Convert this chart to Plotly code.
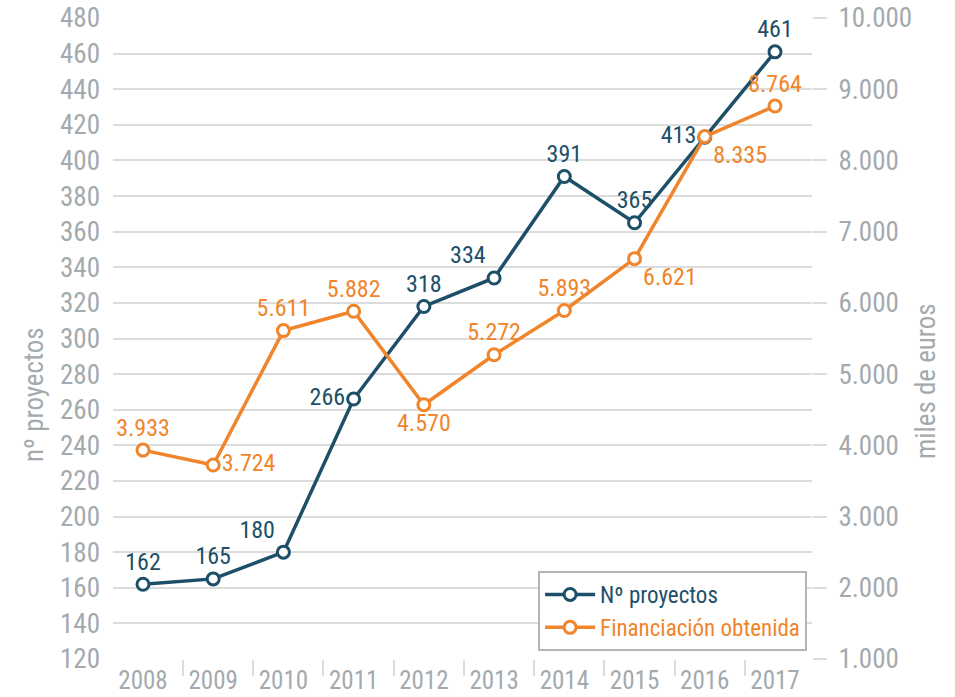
import plotly.graph_objects as go

years = [2008, 2009, 2010, 2011, 2012, 2013, 2014, 2015, 2016, 2017]
proyectos = [162, 165, 180, 266, 318, 334, 391, 365, 413, 461]
financiacion = [3933, 3724, 5611, 5882, 4570, 5272, 5893, 6621, 8335, 8764]
left_ticks = list(range(120, 481, 20))
right_ticks = list(range(1000, 10001, 1000))
right_ticktext = ["{:,}".format(v).replace(",", ".") for v in right_ticks]

BLUE = "#1d5068"
ORANGE = "#f0852b"
GREY = "#a3aaae"
GRID = "#dcdcdc"
FONT = "Liberation Sans Narrow, Roboto Condensed, Noto Sans, sans-serif"

pos_blue = ["top center", "top center", "top left", "middle left", "top center",
            "top left", "top center", "top center", "middle left", "top center"]
pos_orange = ["top center", "middle right", "top center", "top center", "bottom center",
              "top center", "top center", "bottom right", "bottom right", "top center"]

fig = go.Figure()
fig.add_trace(go.Scatter(
    x=years, y=financiacion, yaxis="y2",
    name="<span style='color:%s'>Financiación obtenida</span>" % ORANGE,
    mode="lines+markers+text",
    line=dict(color=ORANGE, width=3.5),
    marker=dict(size=12, color="white", line=dict(color=ORANGE, width=3)),
    text=["{:,}".format(v).replace(",", ".") for v in financiacion],
    textposition=pos_orange,
    textfont=dict(color=ORANGE, size=24, family=FONT),
    cliponaxis=False,
))
fig.add_trace(go.Scatter(
    x=years, y=proyectos, yaxis="y",
    name="<span style='color:%s'>Nº proyectos</span>" % BLUE,
    mode="lines+markers+text",
    line=dict(color=BLUE, width=3.5),
    marker=dict(size=12, color="white", line=dict(color=BLUE, width=3)),
    text=[str(v) for v in proyectos],
    textposition=pos_blue,
    textfont=dict(color=BLUE, size=24, family=FONT),
    cliponaxis=False,
))

fig.update_layout(
    width=955, height=697,
    margin=dict(l=113, r=143, t=18, b=38, autoexpand=False),
    paper_bgcolor="white", plot_bgcolor="white",
    font=dict(family=FONT, color=GREY, size=26),
    showlegend=True,
    legend=dict(
        x=0.993, y=0.0125, xanchor="right", yanchor="bottom",
        bgcolor="white", bordercolor="#b0b5b8", borderwidth=2,
        font=dict(size=23, family=FONT),
        traceorder="reversed",
        itemwidth=50,
    ),
    xaxis=dict(
        range=[2007.573, 2017.527], automargin=False,
        tickmode="array", tickvals=years, ticktext=[str(y) for y in years],
        ticks="", showgrid=False, zeroline=False, showline=False,
        tickfont=dict(size=25, color=GREY),
        ticklabelstandoff=4, ticklabeloverflow="allow",
        minor=dict(tickmode="array", tickvals=[y + 0.57 for y in years[:-1]],
                   ticks="outside", ticklen=16, tickcolor=GRID, tickwidth=2,
                   showgrid=False),
    ),
    yaxis=dict(
        range=[120, 480], tickmode="array", tickvals=left_ticks, automargin=False,
        showgrid=True, gridcolor=GRID, gridwidth=2, zeroline=False,
        ticks="", tickfont=dict(size=27, color=GREY),
        ticklabelstandoff=12, ticklabeloverflow="allow",
    ),
    yaxis2=dict(
        range=[1000, 10000], overlaying="y", side="right", automargin=False,
        tickmode="array", tickvals=right_ticks, ticktext=right_ticktext,
        showgrid=False, zeroline=False, ticks="outside", ticklen=14,
        tickcolor=GRID, tickwidth=2, tickfont=dict(size=27, color=GREY),
        ticklabelstandoff=6, ticklabeloverflow="allow",
    ),
    annotations=[
        dict(text="nº proyectos", textangle=-90, x=34, y=395, xref="paper", yref="paper",
             xanchor="center", yanchor="middle",
             showarrow=False, font=dict(size=27, color=GREY, family=FONT)),
        dict(text="miles de euros", textangle=-90, x=926, y=381, xref="paper", yref="paper",
             xanchor="center", yanchor="middle",
             showarrow=False, font=dict(size=27, color=GREY, family=FONT)),
    ],
)
# convert on-screen pixel positions of the axis titles to paper coordinates
pl, pr, pt, pb = 113, 812, 18, 659
for a in fig.layout.annotations:
    a.x = (a.x - pl) / (pr - pl)
    a.y = (pb - a.y) / (pb - pt)

# remove the browser's default 8px body margin so the figure fills the window
fig.write_html("out.html", config={"displayModeBar": False},
               post_script="document.body.style.margin='0';")
